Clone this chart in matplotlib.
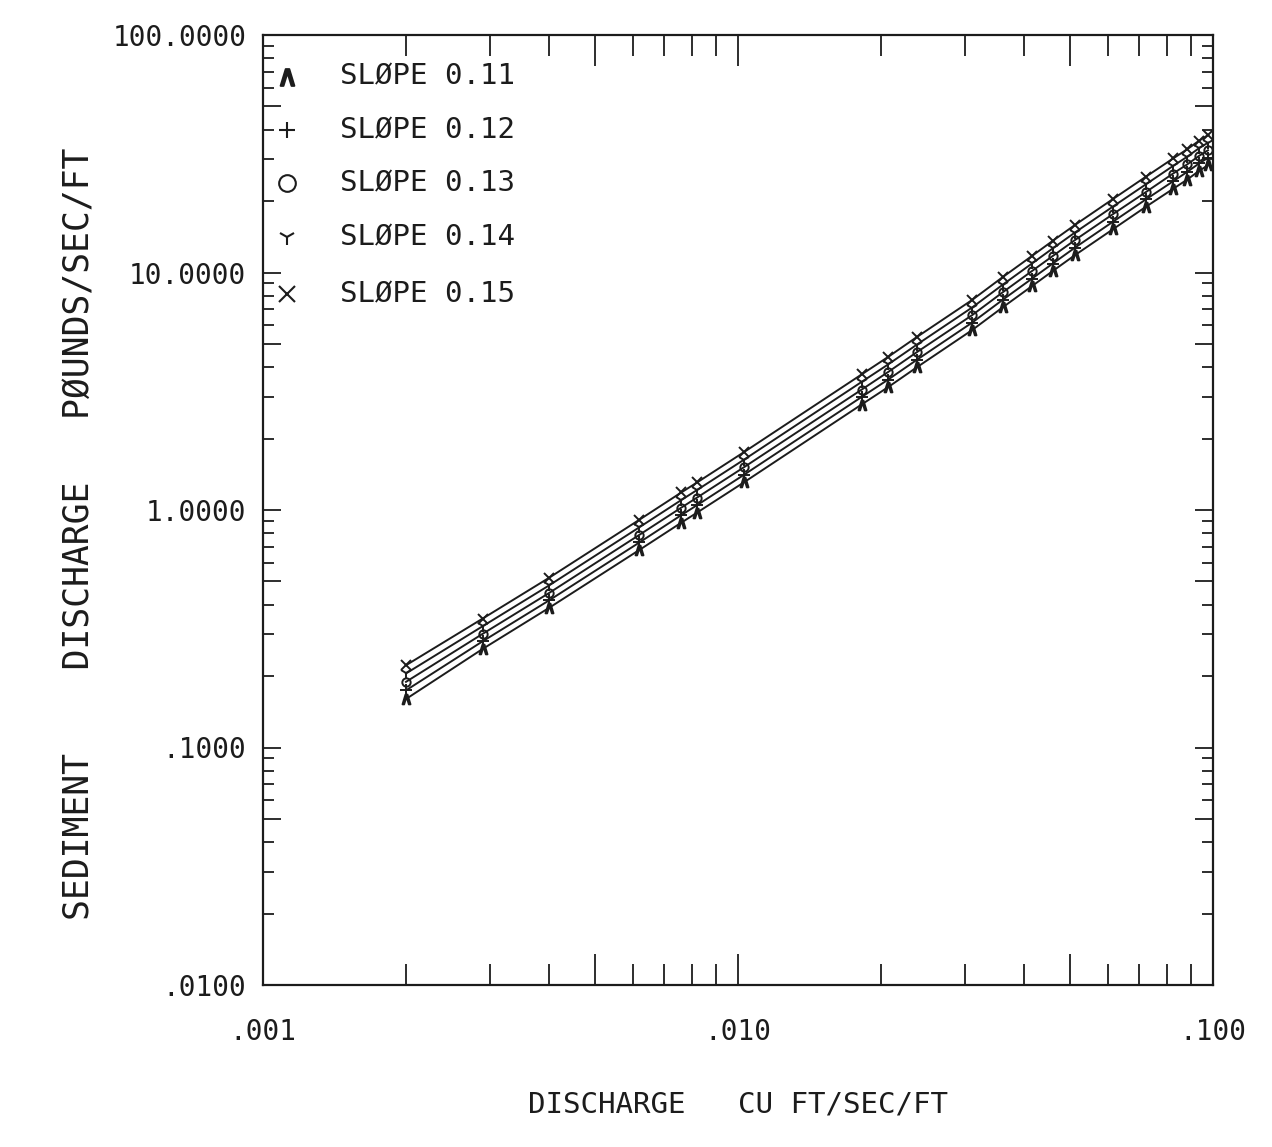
"""Sediment discharge versus water discharge for several bed slopes (log-log)."""

import matplotlib
matplotlib.use("Agg")
import matplotlib.pyplot as plt
from matplotlib.ticker import LogLocator, NullFormatter

# DATA

discharge = [0.0020, 0.0029, 0.0040, 0.0062, 0.0076, 0.0082, 0.0103, 0.0182,
             0.0207, 0.0238, 0.0311, 0.0361, 0.0416, 0.0460, 0.0512, 0.0616,
             0.0722, 0.0824, 0.0882, 0.0935, 0.0976]

sed_011 = [0.160, 0.260, 0.387, 0.679, 0.885, 0.975, 1.309, 2.78, 3.29, 3.99,
           5.72, 7.14, 8.77, 10.15, 11.83, 15.22, 18.9, 22.5, 24.6, 26.8, 28.3]
sed_012 = [0.174, 0.280, 0.416, 0.730, 0.952, 1.048, 1.408, 2.99, 3.54, 4.29,
           6.15, 7.68, 9.43, 10.91, 12.72, 16.37, 20.3, 24.2, 26.5, 28.8, 30.4]
sed_013 = [0.189, 0.301, 0.447, 0.786, 1.024, 1.128, 1.515, 3.21, 3.81, 4.62,
           6.61, 8.26, 10.15, 11.74, 13.69, 17.62, 21.8, 26.1, 28.5, 31.0, 32.7]
sed_014 = [0.205, 0.324, 0.481, 0.846, 1.102, 1.214, 1.630, 3.46, 4.10, 4.97,
           7.12, 8.89, 10.92, 12.64, 14.73, 18.96, 23.5, 28.1, 30.7, 33.4, 35.2]
sed_015 = [0.222, 0.349, 0.518, 0.910, 1.186, 1.306, 1.754, 3.72, 4.41, 5.35,
           7.66, 9.57, 11.75, 13.60, 15.85, 20.4, 25.3, 30.2, 33.0, 35.9, 37.9]

series_labels = ["SLØPE 0.11", "SLØPE 0.12", "SLØPE 0.13", "SLØPE 0.14", "SLØPE 0.15"]
series_values = [sed_011, sed_012, sed_013, sed_014, sed_015]

x_tick_values = [0.001, 0.01, 0.1]
x_tick_labels = [".001", ".010", ".100"]
y_tick_values = [0.01, 0.1, 1.0, 10.0, 100.0]
y_tick_labels = [".0100", ".1000", "1.0000", "10.0000", "100.0000"]

# STYLE

INK = "#1c1c1c"
FONT = "DejaVu Sans Mono"
markers = [r"$\wedge$", "+", "o", "1", "x"]
marker_sizes = [7, 8, 6, 9, 7]

plt.rcParams["font.family"] = [FONT]


def _face(marker):
    """Open circles stay hollow, glyph markers are filled in."""
    return "none" if marker == "o" else INK


fig = plt.figure(figsize=(12.72, 11.47), dpi=100)
ax = fig.add_axes([263 / 1272, 162 / 1147, 950 / 1272, 950 / 1147])

for values, mk, ms in zip(series_values, markers, marker_sizes):
    ax.plot(discharge, values, color=INK, lw=1.4, marker=mk, ms=ms,
            mfc=_face(mk), mec=INK, mew=1.4)

ax.set_xscale("log")
ax.set_yscale("log")
ax.set_xlim(0.001, 0.1)
ax.set_ylim(0.01, 100)

# long ticks at decades and at the 5 of each decade, short ones elsewhere
for axis in (ax.xaxis, ax.yaxis):
    axis.set_major_locator(LogLocator(base=10, subs=(1.0, 5.0)))
    axis.set_minor_locator(LogLocator(base=10, subs=(2, 3, 4, 6, 7, 8, 9)))
    axis.set_minor_formatter(NullFormatter())

x_names = dict(zip([round(t, 6) for t in x_tick_values], x_tick_labels))
y_names = dict(zip([round(t, 6) for t in y_tick_values], y_tick_labels))
ax.xaxis.set_major_formatter(plt.FuncFormatter(lambda v, _: x_names.get(round(v, 6), "")))
ax.yaxis.set_major_formatter(plt.FuncFormatter(lambda v, _: y_names.get(round(v, 6), "")))

ax.tick_params(axis="x", which="major", direction="in", length=22, width=1.3,
               top=True, bottom=True, pad=24, labelsize=20, colors=INK)
ax.tick_params(axis="x", which="minor", direction="in", length=15, width=1.3,
               top=True, bottom=True, colors=INK)
ax.tick_params(axis="y", which="major", direction="in", length=13, width=1.3,
               left=True, right=True, pad=12, labelsize=20, colors=INK)
ax.tick_params(axis="y", which="minor", direction="in", length=8, width=1.3,
               left=True, right=True, colors=INK)

for spine in ax.spines.values():
    spine.set_linewidth(1.6)
    spine.set_color(INK)

ax.set_xlabel("DISCHARGE   CU FT/SEC/FT", fontsize=21, color=INK, labelpad=32)
ax.set_ylabel("SEDIMENT    DISCHARGE   PØUNDS/SEC/FT", fontsize=25, color=INK)
ax.yaxis.set_label_coords(-0.175, 0.475)

# legend drawn as symbol + text rows in the upper left corner
legend_rows = [0.956, 0.900, 0.844, 0.787, 0.727]
for row_y, mk, label in zip(legend_rows, markers, series_labels):
    ax.plot([0.025], [row_y], transform=ax.transAxes, marker=mk, ms=12,
            mfc=_face(mk), mec=INK, mew=1.5, ls="none", clip_on=False)
    ax.text(0.081, row_y, label, transform=ax.transAxes, fontsize=21,
            color=INK, va="center", ha="left")

fig.savefig("out.png", dpi=100, facecolor="white")
